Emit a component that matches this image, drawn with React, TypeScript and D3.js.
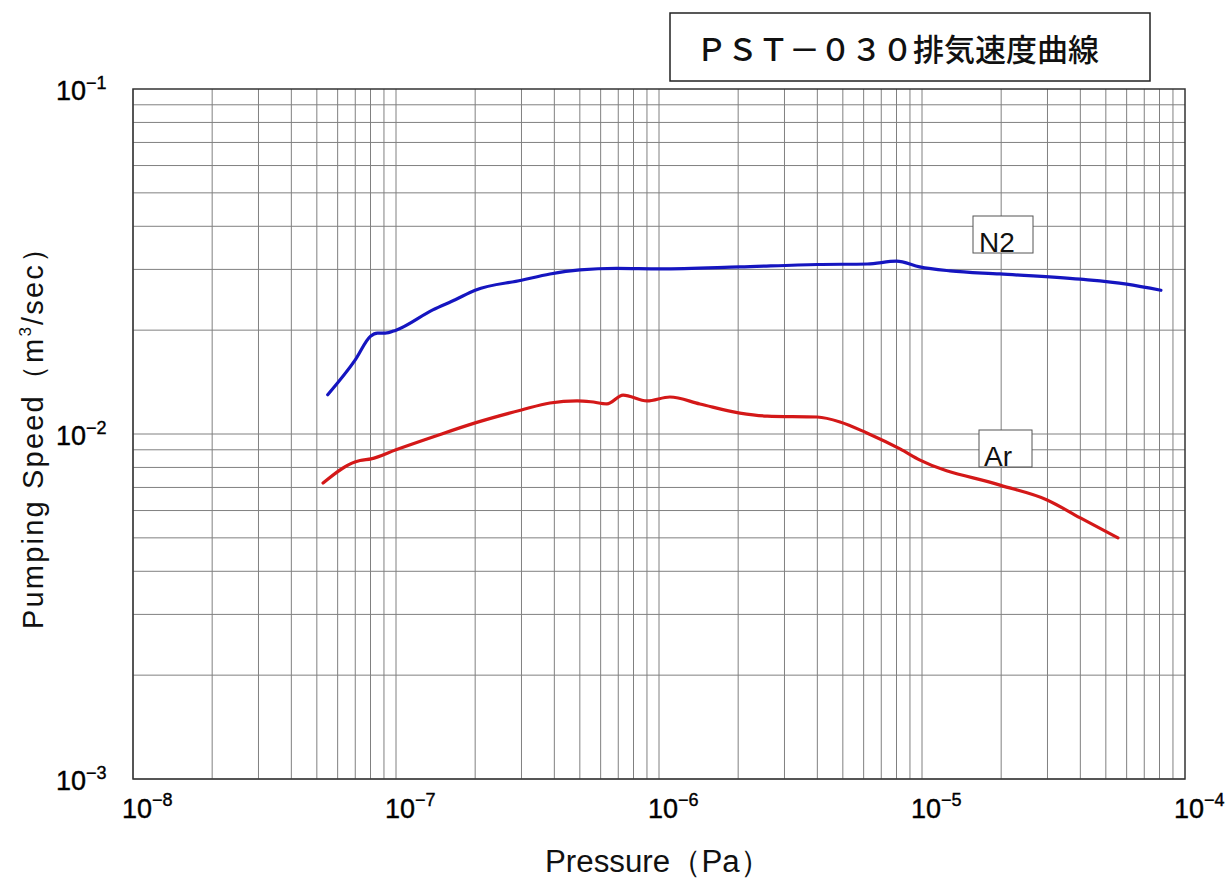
import React from "react";
import * as d3 from "d3";

const titleText = "ＰＳＴ－０３０排気速度曲線";
const xLabel = "Pressure（Pa）";
const xTickExps = [-8, -7, -6, -5, -4];
const yTickExps = [-3, -2, -1];

const n2Pressure = [5.5e-8, 7.0e-8, 8.0e-8, 8.5e-8, 9.1e-8, 1.0e-7, 1.38e-7, 1.68e-7, 2.0e-7, 3.0e-7, 3.85e-7, 5.0e-7, 6.9e-7, 1.01e-6, 2.03e-6, 4.0e-6, 6.2e-6, 8.0e-6, 9.8e-6, 1.28e-5, 1.98e-5, 4.0e-5, 6.0e-5, 8.1e-5];
const n2Speed = [0.0130, 0.0164, 0.0192, 0.0196, 0.0196, 0.0200, 0.0229, 0.0245, 0.0261, 0.0279, 0.0291, 0.0299, 0.0302, 0.0301, 0.0305, 0.0310, 0.0311, 0.0317, 0.0305, 0.0297, 0.0291, 0.0281, 0.0272, 0.0261];

const arPressure = [5.28e-8, 6.98e-8, 7.3e-8, 8.04e-8, 1.0e-7, 1.38e-7, 2.0e-7, 3.0e-7, 3.85e-7, 4.88e-7, 5.5e-7, 6.34e-7, 7.3e-7, 9.0e-7, 1.1e-6, 1.43e-6, 2.03e-6, 2.58e-6, 4.0e-6, 4.88e-6, 6.17e-6, 8.25e-6, 9.83e-6, 1.98e-5, 2.99e-5, 4.0e-5, 5.56e-5];
const arSpeed = [0.00721, 0.0083, 0.00838, 0.00847, 0.0090, 0.0098, 0.01077, 0.01174, 0.0123, 0.01247, 0.01240, 0.01222, 0.01297, 0.01247, 0.0128, 0.01222, 0.0115, 0.01127, 0.0112, 0.01084, 0.01007, 0.00905, 0.0084, 0.00711, 0.00644, 0.00571, 0.0050];

const seriesNames = ["N2", "Ar"];

const W = 1228;
const H = 881;
const left = 133, right = 1185, top = 89, bottom = 779;

export default function App() {
  const x = d3.scaleLog().domain([1e-8, 1e-4]).range([left, right]);
  const y = d3.scaleLog().domain([1e-3, 1e-1]).range([bottom, top]);

  const xGrid: number[] = [];
  for (let e = -8; e < -4; e++) for (let m = 1; m <= 9; m++) xGrid.push(m * Math.pow(10, e));
  const yGrid: number[] = [];
  for (let e = -3; e < -1; e++) for (let m = 1; m <= 9; m++) yGrid.push(m * Math.pow(10, e));

  const line = d3
    .line<[number, number]>()
    .x((d) => x(d[0]))
    .y((d) => y(d[1]))
    .curve(d3.curveMonotoneX);

  const n2 = line(n2Pressure.map((p, i) => [p, n2Speed[i]] as [number, number])) || "";
  const ar = line(arPressure.map((p, i) => [p, arSpeed[i]] as [number, number])) || "";

  const font = "'Liberation Sans', Arial, sans-serif";
  const cjk = "'Noto Sans CJK JP', 'Liberation Sans', sans-serif";

  return (
    <svg width={W} height={H} style={{ position: "absolute", left: 0, top: 0, background: "#fff" }}>
      <rect x={0} y={0} width={W} height={H} fill="#fff" />
      {/* grid */}
      <g stroke="#808080" strokeWidth={1}>
        {xGrid.map((v, i) => (
          <line key={"gx" + i} x1={x(v)} x2={x(v)} y1={top} y2={bottom} />
        ))}
        {yGrid.map((v, i) => (
          <line key={"gy" + i} y1={y(v)} y2={y(v)} x1={left} x2={right} />
        ))}
      </g>
      <rect x={left} y={top} width={right - left} height={bottom - top} fill="none" stroke="#333" strokeWidth={1.5} />

      {/* curves */}
      <path d={n2} fill="none" stroke="#1515c0" strokeWidth={3.2} strokeLinejoin="round" strokeLinecap="round" />
      <path d={ar} fill="none" stroke="#d41818" strokeWidth={3.2} strokeLinejoin="round" strokeLinecap="round" />

      {/* series labels */}
      <rect x={973} y={216} width={60} height={37} fill="#fff" stroke="#555" strokeWidth={1} />
      <text x={979} y={252} fontFamily={font} fontSize={28} fill="#111">{seriesNames[0]}</text>
      <rect x={979} y={430} width={53} height={37} fill="#fff" stroke="#555" strokeWidth={1} />
      <text x={984} y={466} fontFamily={font} fontSize={28} fill="#111">{seriesNames[1]}</text>

      {/* y ticks */}
      {yTickExps.map((e) => (
        <text key={"yt" + e} x={56} y={y(Math.pow(10, e)) + 11} fontFamily={font} fontSize={27} stroke="#000" strokeWidth={0.4} fill="#000">
          10
          <tspan fontSize={18} dy={-11}>{"−" + Math.abs(e)}</tspan>
        </text>
      ))}
      {/* x ticks */}
      {xTickExps.map((e) => (
        <text key={"xt" + e} x={x(Math.pow(10, e)) - 11} y={818} fontFamily={font} fontSize={27} stroke="#000" strokeWidth={0.4} fill="#000">
          10
          <tspan fontSize={18} dy={-12}>{"−" + Math.abs(e)}</tspan>
        </text>
      ))}

      {/* axis titles */}
      <text x={545} y={872} textLength={226} lengthAdjust="spacingAndGlyphs" fontFamily={font} fontSize={31} fill="#111">{xLabel}</text>
      <text transform="translate(43,234) rotate(-90)" textAnchor="end" fontFamily={font} fontSize={29} textLength={395} lengthAdjust="spacing" fill="#111">
        Pumping Speed（m
        <tspan fontSize={17} dy={-12}>3</tspan>
        <tspan dy={12}>/sec）</tspan>
      </text>

      {/* title */}
      <rect x={670} y={13} width={480} height={68} fill="#fff" stroke="#222" strokeWidth={1.5} />
      <text x={696} y={61} fontFamily={cjk} fontSize={31} fontWeight={500} fill="#111">{titleText}</text>
    </svg>
  );
}
